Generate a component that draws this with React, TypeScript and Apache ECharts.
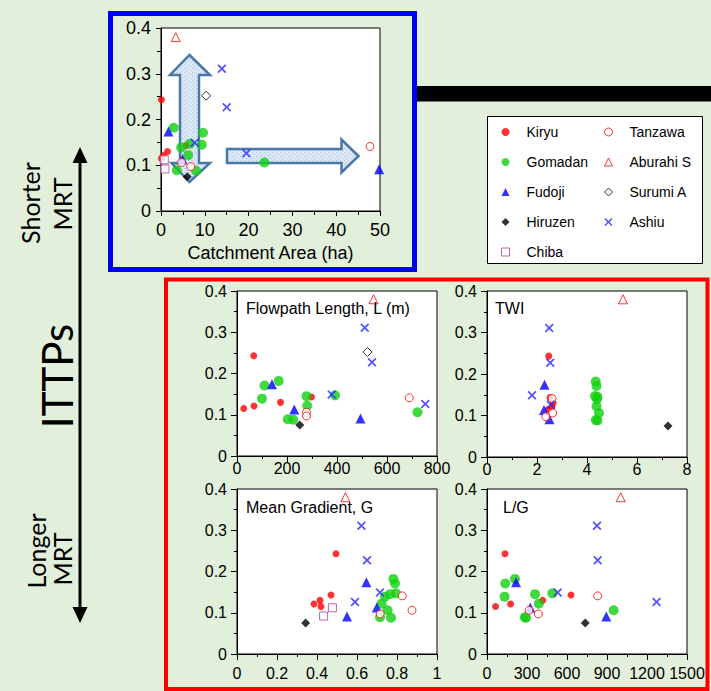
import React, { useEffect, useRef } from 'react';
import * as echarts from 'echarts';

// ---- Data: ITTP (y) and the five catchment descriptors (x) per site ----
const kiryuITTP = [0.243, 0.115, 0.121, 0.13, 0.143];
const kiryuArea = [0.1, 0.1, 0.5, 1.5, 5.7];
const kiryuL = [67, 27, 68, 174, 298];
const kiryuTWI = [2.47, 2.45, 2.6, 2.65, 2.52];
const kiryuG = [0.495, 0.42, 0.385, 0.415, 0.47];
const kiryuLG = [135, 64, 177, 417, 630];

const gomadanITTP = [0.182, 0.171, 0.147, 0.145, 0.139, 0.122, 0.106, 0.089, 0.088];
const gomadanArea = [2.9, 9.6, 6.6, 9.3, 4.6, 6.2, 23.6, 3.6, 8.0];
const gomadanL = [167, 110, 392, 278, 100, 281, 722, 203, 225];
const gomadanTWI = [4.35, 4.38, 4.32, 4.42, 4.4, 4.38, 4.48, 4.35, 4.42];
const gomadanG = [0.782, 0.79, 0.795, 0.765, 0.74, 0.723, 0.753, 0.715, 0.77];
const gomadanLG = [210, 137, 490, 360, 132, 388, 950, 284, 292];

const fudojiITTP = [0.174, 0.113, 0.091];
const fudojiArea = [1.7, 4.9, 49.8];
const fudojiL = [140, 229, 494];
const fudojiTWI = [2.3, 2.28, 2.5];
const fudojiG = [0.647, 0.699, 0.55];
const fudojiLG = [218, 325, 895];

const hiruzenITTP = [0.075];
const hiruzenArea = [6.0];
const hiruzenL = [251];
const hiruzenTWI = [7.24];
const hiruzenG = [0.343];
const hiruzenLG = [737];

const chibaITTP = [0.112, 0.092];
const chibaArea = [0.75, 0.9];
const chibaG = [0.477, 0.433];

const tanzawaITTP = [0.141, 0.106, 0.097];
const tanzawaArea = [47.7, 4.7, 6.8];
const tanzawaL = [689, 278, 278];
const tanzawaTWI = [2.6, 2.63, 2.35];
const tanzawaG = [0.826, 0.875, 0.716];
const tanzawaLG = [830, 315, 385];

const aburahiITTP = [0.38];
const aburahiArea = [3.35];
const aburahiL = [546];
const aburahiTWI = [5.44];
const aburahiG = [0.542];
const aburahiLG = [1003];

const surumiITTP = [0.252];
const surumiArea = [10.3];
const surumiL = [522];

const ashiuITTP = [0.311, 0.227, 0.149, 0.126];
const ashiuArea = [13.9, 15.0, 7.7, 19.5];
const ashiuL = [511, 540, 379, 753];
const ashiuTWI = [2.49, 2.53, 1.8, 2.55];
const ashiuG = [0.622, 0.65, 0.715, 0.59];
const ashiuLG = [825, 830, 530, 1272];

const legendCol1 = ['Kiryu', 'Gomadan', 'Fudoji', 'Hiruzen', 'Chiba'];
const legendCol2 = ['Tanzawa', 'Aburahi S', 'Surumi A', 'Ashiu'];

const panelTitles = ['Flowpath Length, L (m)', 'TWI', 'Mean Gradient, G', 'L/G'];
const areaAxisName = 'Catchment Area (ha)';

// ---- Styles ----
const FONT = '"Liberation Sans", Arial, sans-serif';
const XPATH =
  'path://M0,1.4L1.4,0L5,3.6L8.6,0L10,1.4L6.4,5L10,8.6L8.6,10L5,6.4L1.4,10L0,8.6L3.6,5Z';

type Site = {
  name: string;
  y: number[];
  xs: (number[] | null)[]; // area, L, TWI, G, L/G
  symbol: string;
  size: number;
  itemStyle: any;
  open: boolean;
};

const sites: Site[] = [
  { name: 'Kiryu', y: kiryuITTP, xs: [kiryuArea, kiryuL, kiryuTWI, kiryuG, kiryuLG], symbol: 'circle', size: 7, open: false, itemStyle: { color: '#ff0000' } },
  { name: 'Gomadan', y: gomadanITTP, xs: [gomadanArea, gomadanL, gomadanTWI, gomadanG, gomadanLG], symbol: 'circle', size: 10, open: false, itemStyle: { color: '#10d010' } },
  { name: 'Fudoji', y: fudojiITTP, xs: [fudojiArea, fudojiL, fudojiTWI, fudojiG, fudojiLG], symbol: 'triangle', size: 10, open: false, itemStyle: { color: '#0000ff' } },
  { name: 'Hiruzen', y: hiruzenITTP, xs: [hiruzenArea, hiruzenL, hiruzenTWI, hiruzenG, hiruzenLG], symbol: 'diamond', size: 9, open: false, itemStyle: { color: '#000000' } },
  { name: 'Chiba', y: chibaITTP, xs: [chibaArea, null, null, chibaG, null], symbol: 'rect', size: 8, open: true, itemStyle: { color: '#ffffff', borderColor: '#a8409c', borderWidth: 1 } },
  { name: 'Tanzawa', y: tanzawaITTP, xs: [tanzawaArea, tanzawaL, tanzawaTWI, tanzawaG, tanzawaLG], symbol: 'circle', size: 8, open: true, itemStyle: { color: '#ffffff', borderColor: '#ff0000', borderWidth: 1 } },
  { name: 'Aburahi S', y: aburahiITTP, xs: [aburahiArea, aburahiL, aburahiTWI, aburahiG, aburahiLG], symbol: 'triangle', size: 9, open: true, itemStyle: { color: '#ffffff', borderColor: '#ff0000', borderWidth: 1 } },
  { name: 'Surumi A', y: surumiITTP, xs: [surumiArea, surumiL, null, null, null], symbol: 'diamond', size: 9, open: true, itemStyle: { color: '#ffffff', borderColor: '#000000', borderWidth: 1 } },
  { name: 'Ashiu', y: ashiuITTP, xs: [ashiuArea, ashiuL, ashiuTWI, ashiuG, ashiuLG], symbol: XPATH, size: 9, open: false, itemStyle: { color: '#2a2aff' } },
];

const grids = [
  { left: 161, top: 28, width: 219, height: 183 },
  { left: 237, top: 291, width: 200, height: 165 },
  { left: 487, top: 291, width: 200, height: 166 },
  { left: 237, top: 489, width: 200, height: 165 },
  { left: 487, top: 489, width: 200, height: 165 },
];

const xRanges = [
  { min: 0, max: 50, interval: 10 },
  { min: 0, max: 800, interval: 200 },
  { min: 0, max: 8, interval: 2 },
  { min: 0, max: 1, interval: 0.2 },
  { min: 0, max: 1500, interval: 300 },
];

function makeAxis(gi: number, r: any, fs: number, margin: number, tick: number, minor: number, extra: any = {}) {
  return {
    type: 'value',
    gridIndex: gi,
    min: r.min,
    max: r.max,
    interval: r.interval,
    axisLine: { show: true, onZero: false, lineStyle: { color: '#000', width: 1 } },
    axisTick: { show: true, inside: false, length: tick, lineStyle: { color: '#000' } },
    minorTick: { show: true, splitNumber: 2, length: minor, lineStyle: { color: '#000' } },
    splitLine: { show: false },
    minorSplitLine: { show: false },
    axisLabel: {
      show: true,
      color: '#000',
      fontSize: fs,
      fontFamily: FONT,
      margin,
      showMinLabel: true,
      showMaxLabel: true,
      hideOverlap: false,
      formatter: (v: number) => String(Math.round(v * 1000) / 1000),
    },
    ...extra,
  };
}

function makeDotPattern(): any {
  try {
    const c = document.createElement('canvas');
    c.width = 4;
    c.height = 4;
    const ctx = c.getContext('2d');
    if (!ctx) return '#d3e2f3';
    ctx.fillStyle = '#dbe7f5';
    ctx.fillRect(0, 0, 4, 4);
    ctx.fillStyle = '#a9c4e4';
    ctx.fillRect(0, 0, 1, 1);
    ctx.fillRect(2, 2, 1, 1);
    return { image: c.toDataURL(), repeat: 'repeat', imageWidth: 4, imageHeight: 4 };
  } catch (e) {
    return '#d3e2f3';
  }
}

export default function App() {
  const ref = useRef<HTMLDivElement>(null);

  useEffect(() => {
    if (!ref.current) return;
    document.body.style.margin = '0';
    const chart = echarts.init(ref.current, null, { renderer: 'svg' });

    const xAxis: any[] = [];
    const yAxis: any[] = [];
    grids.forEach((_, i) => {
      const top = i === 0;
      const fs = top ? 18 : 16;
      const xMargin = top ? 10 : i <= 2 ? 4 : 11;
      xAxis.push(
        makeAxis(i, xRanges[i], fs, xMargin, top ? 5 : 6, top ? 4 : 3,
          top
            ? { name: areaAxisName, nameLocation: 'middle', nameGap: 33, nameTextStyle: { color: '#000', fontSize: 18, fontFamily: FONT } }
            : {})
      );
      yAxis.push(makeAxis(i, { min: 0, max: 0.4, interval: 0.1 }, fs, 10, top ? 5 : 6, top ? 4 : 3));
    });

    const series: any[] = [];
    sites.forEach((s) => {
      s.xs.forEach((xv, p) => {
        if (!xv) return;
        series.push({
          type: 'scatter',
          name: s.name,
          xAxisIndex: p,
          yAxisIndex: p,
          symbol: s.symbol,
          symbolSize: s.size,
          itemStyle: s.itemStyle,
          emphasis: { disabled: true },
          data: xv.map((x, k) => [x, s.y[k]]),
          z: 3,
        });
      });
    });

    const legendItems = (names: string[]) =>
      names.map((n) => {
        const s = sites.find((q) => q.name === n)!;
        return s.open
          ? { name: n, itemStyle: { color: '#ffffff', borderColor: s.itemStyle.borderColor, borderWidth: 1 } }
          : { name: n, itemStyle: { color: s.itemStyle.color, borderWidth: 0 } };
      });

    const legendBase = {
      orient: 'vertical',
      top: 125,
      itemWidth: 8,
      itemHeight: 8,
      itemGap: 16,
      padding: 0,
      selectedMode: false,
      textStyle: { color: '#000', fontSize: 14, lineHeight: 14, fontFamily: FONT, padding: [0, 0, 0, 12] },
    };

    const txt = (text: string, x: number, y: number, fs: number) => ({
      type: 'text',
      x,
      y,
      rotation: Math.PI / 2,
      z: 5,
      style: { text, fontSize: fs, fontFamily: 'Lato, "Open Sans", sans-serif', fill: '#000', align: 'center', verticalAlign: 'middle' },
    });

    const arrowStyle = { fill: makeDotPattern(), stroke: '#4a78a6', lineWidth: 2.5 };

    const graphic: any[] = [
      // blue frame
      { type: 'rect', z: 6, shape: { x: 110.5, y: 13.5, width: 304, height: 256 }, style: { fill: 'none', stroke: '#0000ff', lineWidth: 5 } },
      // red frame
      { type: 'rect', z: 6, shape: { x: 166, y: 279.5, width: 541.5, height: 409.5 }, style: { fill: 'none', stroke: '#ff0000', lineWidth: 4 } },
      // black bar
      { type: 'rect', z: 6, shape: { x: 417, y: 86, width: 294, height: 15.5 }, style: { fill: '#000' } },
      // legend frame
      { type: 'rect', z: 1, shape: { x: 487.5, y: 116.5, width: 215, height: 147 }, style: { fill: '#fff', stroke: '#000', lineWidth: 1 } },
      // block arrows
      {
        type: 'polygon', z: 2,
        shape: { points: [[189.5, 55], [210, 75], [199, 75], [199, 163], [210, 163], [189.5, 182], [171.5, 163], [180, 163], [180, 75], [170, 75]] },
        style: arrowStyle,
      },
      {
        type: 'polygon', z: 2,
        shape: { points: [[227, 149], [341.5, 149], [341.5, 139.5], [358.5, 156], [341.5, 172.5], [341.5, 163], [227, 163]] },
        style: arrowStyle,
      },
      // left double arrow
      { type: 'line', z: 5, shape: { x1: 80, y1: 160, x2: 80, y2: 610 }, style: { stroke: '#000', lineWidth: 3 } },
      { type: 'polygon', z: 5, shape: { points: [[80, 147], [87.5, 163], [72.5, 163]] }, style: { fill: '#000' } },
      { type: 'polygon', z: 5, shape: { points: [[80, 623], [87.5, 607], [72.5, 607]] }, style: { fill: '#000' } },
      txt('Shorter', 30, 203, 25),
      txt('MRT', 62, 204, 25),
      txt('ITTPs', 57, 376, 42),
      txt('Longer', 36, 551, 25),
      txt('MRT', 62, 559, 25),
    ];

    const titleStyle = { color: '#000', fontSize: 16, fontWeight: 'normal', fontFamily: FONT };
    const title = [
      { text: panelTitles[0], left: 246, top: 300, padding: 0, textStyle: titleStyle },
      { text: panelTitles[1], left: 495, top: 300, padding: 0, textStyle: titleStyle },
      { text: panelTitles[2], left: 246, top: 499, padding: 0, textStyle: titleStyle },
      { text: panelTitles[3], left: 503, top: 499, padding: 0, textStyle: titleStyle },
    ];

    chart.setOption({
      animation: false,
      backgroundColor: '#e2efda',
      title,
      grid: grids.map((g) => ({
        ...g,
        show: true,
        backgroundColor: '#fff',
        borderColor: '#000',
        borderWidth: 1,
        containLabel: false,
        outerBoundsMode: 'none',
      })),
      xAxis,
      yAxis,
      legend: [
        { ...legendBase, left: 501, data: legendItems(legendCol1) },
        { ...legendBase, left: 604, data: legendItems(legendCol2) },
      ],
      tooltip: { show: false },
      graphic,
      series,
    });

    return () => chart.dispose();
  }, []);

  return (
    <div
      ref={ref}
      style={{ position: 'relative', width: 711, height: 691 }}
    />
  );
}
